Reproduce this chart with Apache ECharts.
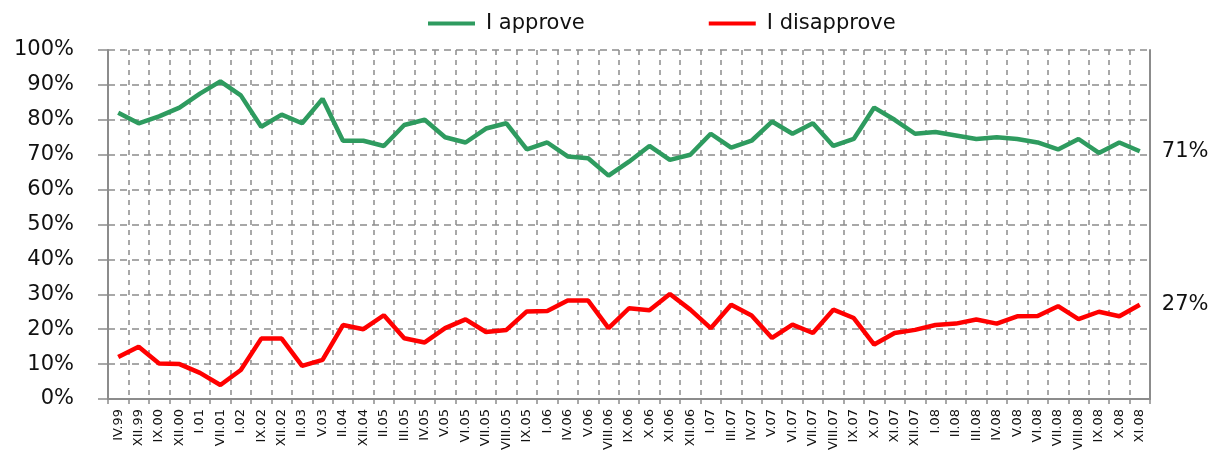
<!DOCTYPE html>
<html>
<head>
<meta charset="utf-8">
<script src="https://cdn.jsdelivr.net/npm/echarts@6/dist/echarts.min.js"></script>
<style>
html,body{margin:0;padding:0;background:#fff;}
#chart{width:1229px;height:454px;}
</style>
</head>
<body>
<div id="chart"></div>
<script>
const categories = ['IV.99','XII.99','IX.00','XII.00','I.01','VII.01','I.02','IX.02','XII.02','II.03','V.03','II.04','XII.04','II.05','III.05','IV.05','V.05','VI.05','VII.05','VIII.05','IX.05','I.06','IV.06','V.06','VIII.06','IX.06','X.06','XI.06','XII.06','I.07','III.07','IV.07','V.07','VI.07','VII.07','VIII.07','IX.07','X.07','XI.07','XII.07','I.08','II.08','III.08','IV.08','V.08','VI.08','VII.08','VIII.08','IX.08','X.08','XI.08'];
const approve = [82,79,81,83.5,87.5,91,87,78,81.5,79,86,74,74,72.5,78.5,80,75,73.5,77.5,79,71.5,73.5,69.5,69,64,68,72.5,68.5,70,76,72,74,79.5,76,79,72.5,74.5,83.5,80,76,76.5,75.5,74.5,75,74.5,73.5,71.5,74.5,70.5,73.5,71];
const disapprove = [12,15,10.2,10,7.5,4,8.3,17.3,17.3,9.5,11.2,21.2,20,24,17.4,16.2,20.3,22.8,19.2,19.8,25.1,25.2,28.2,28.2,20.3,26,25.4,30.1,25.6,20.3,27,23.9,17.5,21.3,18.9,25.6,23.2,15.6,18.9,19.8,21.2,21.6,22.8,21.6,23.7,23.8,26.6,22.9,25,23.7,27];
const seriesNames = ['I approve','I disapprove'];
const yTicks = {min:0, max:100, interval:10};

const chart = echarts.init(document.getElementById('chart'));
const font = 'DejaVu Sans';
const gridColor = '#8c8c8c';
chart.setOption({
  animation:false,
  backgroundColor:'#fff',
  textStyle:{fontFamily:font},
  legend:{
    left:423, top:8,
    itemWidth:47, itemHeight:4, itemGap:124,
    icon:'rect',
    textStyle:{fontSize:21, color:'#111', fontFamily:font, padding:[0,0,0,6]},
    data:seriesNames
  },
  grid:{left:108, right:79, top:50, bottom:55},
  xAxis:{
    type:'category', data:categories, boundaryGap:true,
    axisLine:{show:true, lineStyle:{color:'#8c8c8c', width:2}},
    axisTick:{show:true, interval:0, length:5, lineStyle:{color:'#8c8c8c', width:1.5}},
    axisLabel:{interval:0, rotate:90, margin:10, fontSize:13, color:'#111', fontFamily:font},
    splitLine:{show:true, interval:0, lineStyle:{color:gridColor, type:[5,5], width:1.5}}
  },
  yAxis:[{
    type:'value', min:yTicks.min, max:yTicks.max, interval:yTicks.interval,
    axisLine:{show:true, lineStyle:{color:'#8c8c8c', width:2}},
    axisTick:{show:true, length:10, lineStyle:{color:'#8c8c8c', width:1.5}},
    axisLabel:{formatter:'{value}%', fontSize:21, color:'#111', margin:34, fontFamily:font},
    splitLine:{show:true, lineStyle:{color:gridColor, type:[7,5], width:1.5}}
  },{
    type:'value', position:'right', min:yTicks.min, max:yTicks.max, interval:yTicks.interval,
    axisLine:{show:true, lineStyle:{color:'#8c8c8c', width:2}},
    axisTick:{show:false}, axisLabel:{show:false}, splitLine:{show:false}
  }],
  series:[{
    name:seriesNames[0], type:'line', data:approve, showSymbol:false, symbol:'none',
    lineStyle:{color:'#2e9b5f', width:4.5}, itemStyle:{color:'#2e9b5f'},
    endLabel:{show:true, distance:22, fontSize:21, color:'#111', fontFamily:font,
      formatter:p=>Math.round(p.value)+'%'}
  },{
    name:seriesNames[1], type:'line', data:disapprove, showSymbol:false, symbol:'none',
    lineStyle:{color:'#ff0000', width:4.5}, itemStyle:{color:'#ff0000'},
    endLabel:{show:true, distance:22, fontSize:21, color:'#111', fontFamily:font,
      formatter:p=>Math.round(p.value)+'%'}
  }]
});
</script>
</body>
</html>
